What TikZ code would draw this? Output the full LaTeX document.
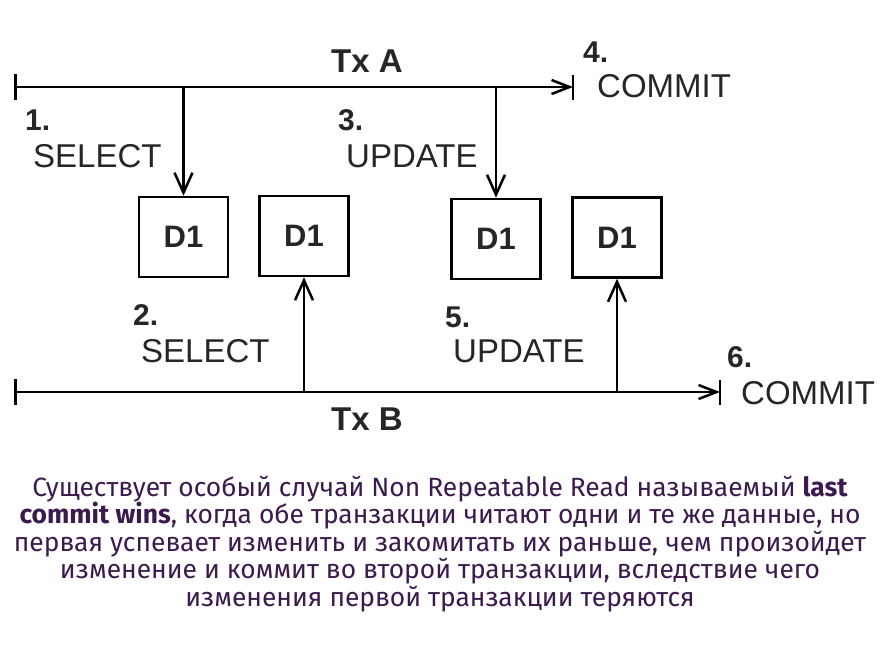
\documentclass[tikz,border=0pt]{standalone}
\usepackage{fontspec}
\usetikzlibrary{arrows.meta}
\setmainfont{Liberation Sans}
\newfontfamily\notefont{Fira Sans}
\definecolor{ink}{HTML}{262626}
\definecolor{note}{HTML}{3C1A4E}

\begin{document}
\begin{tikzpicture}[x=1pt, y=-1pt,
    every node/.style={inner sep=0pt},
    lbl/.style={anchor=base west, text=ink, font=\fontsize{33}{36}\selectfont},
    num/.style={anchor=base west, text=ink, font=\fontsize{30}{33}\selectfont\bfseries},
    txlbl/.style={anchor=base, text=ink, font=\fontsize{33}{36}\selectfont\bfseries},
    box/.style={rectangle, draw, line width=2.5pt, minimum width=89pt,
      minimum height=80pt, text=ink, font=\fontsize{31}{34}\selectfont\bfseries},
    tline/.style={line width=2.5pt,
      {Bar[width=26pt]}-{Straight Barb[length=18pt, width=14pt]}},
    tick/.style={line width=2.5pt},
    arr/.style={line width=2.5pt, -{Straight Barb[length=20pt, width=18pt]}}]

  \useasboundingbox (0,0) rectangle (895,645);

  % Tx A
  \coordinate (a0) at (14,87);
  \coordinate (a1) at (573,87);
  \draw[tline] (a0) -- (a1);
  \draw[tick] ([yshift=12.5pt]a1) -- ([yshift=-12.5pt]a1);
  \node[txlbl] (txa) at (367,72) {Tx A};

  % Tx B
  \coordinate (b0) at (14,392);
  \coordinate (b1) at (720,392);
  \draw[tline] (b0) -- (b1);
  \draw[tick] ([yshift=12.5pt]b1) -- ([yshift=-12.5pt]b1);
  \node[txlbl] (txb) at (367,430) {Tx B};

  % data
  \node[box] (d1) at (183.5,237) {D1};
  \node[box] (d2) at (304,236) {D1};
  \node[box] (d3) at (496,239) {D1};
  \node[box] (d4) at (617,237.5) {D1};

  \coordinate (s1) at (183.5,87);
  \coordinate (s3) at (496,87);
  \coordinate (s2) at (304,392);
  \coordinate (s5) at (617,392);
  \draw[arr] (s1) -- (d1.north);
  \draw[arr] (s3) -- (d3.north);
  \draw[arr] (s2) -- (d2.south);
  \draw[arr] (s5) -- (d4.south);

  % steps
  \node[num] (n1) at (25,130) {1.};
  \node[lbl] (l1) at (33,167) {SELECT};
  \node[num] (n2) at (133,325) {2.};
  \node[lbl] (l2) at (141,362) {SELECT};
  \node[num] (n3) at (338,130) {3.};
  \node[lbl] (l3) at (346,167) {UPDATE};
  \node[num] (n4) at (583,62) {4.};
  \node[lbl] (l4) at (597,97) {COMMIT};
  \node[num] (n5) at (445,327) {5.};
  \node[lbl] (l5) at (453,362) {UPDATE};
  \node[num] (n6) at (727,367) {6.};
  \node[lbl] (l6) at (741,404) {COMMIT};

  % caption
  \node[align=center, text=note, font=\notefont\fontsize{26.4}{27.5}\selectfont]
    (cap) at (440,544) {Существует особый случай Non Repeatable Read называемый \textbf{last}\\
    \textbf{commit wins}, когда обе транзакции читают одни и те же данные, но\\
    первая успевает изменить и закомитать их раньше, чем произойдет\\
    изменение и коммит во второй транзакции, вследствие чего\\
    изменения первой транзакции теряются};
\end{tikzpicture}
\end{document}
